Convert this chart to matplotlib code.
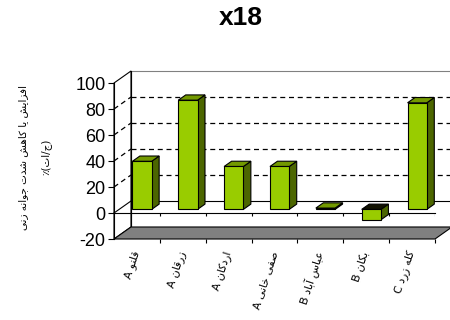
import re
import matplotlib
matplotlib.use("Agg")
import matplotlib.pyplot as plt
from matplotlib.patches import Polygon

# ---- data -------------------------------------------------------------
title = "x18"
categories = ["قلنو A", "زرقان A", "اردکان A", "صفی خانی A",
              "عباس آباد B", "بکان B", "کله زرد C"]
values = [37, 84, 33, 33, 1, -8, 82]
y_ticks = [-20, 0, 20, 40, 60, 80, 100]
y_label_lines = ["افزایش یا کاهش شدت جوانه زنی", "(ج/ات)٪"]

# ---- minimal Persian shaping (contextual forms + visual order) ---------
FORMS = {
    'ا': ('\uFE8D', '\uFE8E', None, None),
    'آ': ('\uFE81', '\uFE82', None, None),
    'ب': ('\uFE8F', '\uFE90', '\uFE91', '\uFE92'),
    'ت': ('\uFE95', '\uFE96', '\uFE97', '\uFE98'),
    'ج': ('\uFE9D', '\uFE9E', '\uFE9F', '\uFEA0'),
    'خ': ('\uFEA5', '\uFEA6', '\uFEA7', '\uFEA8'),
    'د': ('\uFEA9', '\uFEAA', None, None),
    'ر': ('\uFEAD', '\uFEAE', None, None),
    'ز': ('\uFEAF', '\uFEB0', None, None),
    'س': ('\uFEB1', '\uFEB2', '\uFEB3', '\uFEB4'),
    'ش': ('\uFEB5', '\uFEB6', '\uFEB7', '\uFEB8'),
    'ص': ('\uFEB9', '\uFEBA', '\uFEBB', '\uFEBC'),
    'ع': ('\uFEC9', '\uFECA', '\uFECB', '\uFECC'),
    'ف': ('\uFED1', '\uFED2', '\uFED3', '\uFED4'),
    'ق': ('\uFED5', '\uFED6', '\uFED7', '\uFED8'),
    'ک': ('\uFB8E', '\uFB8F', '\uFB90', '\uFB91'),
    'ل': ('\uFEDD', '\uFEDE', '\uFEDF', '\uFEE0'),
    'م': ('\uFEE1', '\uFEE2', '\uFEE3', '\uFEE4'),
    'ن': ('\uFEE5', '\uFEE6', '\uFEE7', '\uFEE8'),
    'ه': ('\uFEE9', '\uFEEA', '\uFEEB', '\uFEEC'),
    'و': ('\uFEED', '\uFEEE', None, None),
    'ی': ('\uFBFC', '\uFBFD', '\uFBFE', '\uFBFF'),
}
MIRROR = {'(': ')', ')': '('}


def _dual(c):
    return c in FORMS and FORMS[c][2] is not None


def rtl(text):
    out = []
    for i, c in enumerate(text):
        if c not in FORMS:
            out.append(c)
            continue
        prev = text[i - 1] if i > 0 else ''
        nxt = text[i + 1] if i + 1 < len(text) else ''
        jp = _dual(prev)
        jn = _dual(c) and nxt in FORMS
        iso, fin, ini, med = FORMS[c]
        if jp and jn:
            out.append(med)
        elif jp:
            out.append(fin)
        elif jn:
            out.append(ini)
        else:
            out.append(iso)
    shaped = ''.join(out)
    tokens = re.findall(r'[A-Za-z0-9]+|.', shaped)
    return ''.join(MIRROR.get(t, t) for t in reversed(tokens))


# ---- figure -----------------------------------------------------------
W, H = 450, 320
fig = plt.figure(figsize=(W / 100, H / 100), dpi=100)
fig.patch.set_facecolor("white")

x0_px, x1_px = 114, 435
y_lo_px, y_hi_px = 239, 83
ax = fig.add_axes([x0_px / W, 1 - y_lo_px / H,
                   (x1_px - x0_px) / W, (y_lo_px - y_hi_px) / H])
n = len(categories)
ymin, ymax = y_ticks[0], y_ticks[-1]
ax.set_xlim(0, n)
ax.set_ylim(ymin, ymax)
ax.set_facecolor("none")

# depth vector of the 3-D box, in data units
px_per_cat = (x1_px - x0_px) / n
px_per_val = (y_lo_px - y_hi_px) / (ymax - ymin)
DX = 17 / px_per_cat
DY = 12 / px_per_val

edge = "black"
lw = 0.8

# side wall (left) and back wall
ax.add_patch(Polygon([(0, ymin), (0, ymax), (DX, ymax + DY), (DX, ymin + DY)],
                     closed=True, facecolor="white", edgecolor=edge, lw=lw,
                     clip_on=False, zorder=1))
ax.add_patch(Polygon([(DX, ymin + DY), (DX, ymax + DY), (n + DX, ymax + DY),
                      (n + DX, ymin + DY)],
                     closed=True, facecolor="white", edgecolor="#808080", lw=lw,
                     clip_on=False, zorder=1))
ax.plot([DX, DX], [ymin + DY, ymax + DY], color=edge, lw=lw,
        clip_on=False, zorder=2)

# gridlines on back wall and side wall
for v in y_ticks[2:-1]:
    ax.plot([DX, n + DX], [v + DY, v + DY], color="black", lw=0.9,
            ls=(0, (4, 3)), clip_on=False, zorder=2)
    ax.plot([0, DX], [v, v + DY], color="black", lw=0.9,
            ls=(0, (4, 3)), clip_on=False, zorder=2)

# zero plane outline
ax.plot([DX, n + DX], [DY, DY], color=edge, lw=lw, clip_on=False, zorder=2)
ax.plot([0, DX], [0, DY], color=edge, lw=lw, clip_on=False, zorder=2)

# floor
ax.add_patch(Polygon([(0, ymin), (n, ymin), (n + DX, ymin + DY), (DX, ymin + DY)],
                     closed=True, facecolor="#808080", edgecolor=edge, lw=lw,
                     clip_on=False, zorder=3))

# front zero line with category dividers
ax.plot([0, n], [0, 0], color=edge, lw=lw, clip_on=False, zorder=4)
ax.vlines(range(1, n + 1), -3 / px_per_val, 0, color=edge, lw=lw, zorder=4)

# 3-D columns
f0, f1 = 0.30, 0.74
bw = 0.42
d = f1 - f0
front_col, side_col, top_col = "#99CC00", "#4C6600", "#739900"
xs = [i + 0.5 + f0 * DX for i in range(n)]
base = f0 * DY
ax.bar(xs, values, width=bw, bottom=base, color=front_col,
       edgecolor=edge, lw=lw, zorder=6)
for x, v in zip(xs, values):
    xl, xr = x - bw / 2, x + bw / 2
    lo, hi = base + min(v, 0), base + max(v, 0)
    ax.add_patch(Polygon([(xr, lo), (xr, hi), (xr + d * DX, hi + d * DY),
                          (xr + d * DX, lo + d * DY)],
                         closed=True, facecolor=side_col, edgecolor=edge,
                         lw=lw, zorder=5))
    ax.add_patch(Polygon([(xl, hi), (xr, hi), (xr + d * DX, hi + d * DY),
                          (xl + d * DX, hi + d * DY)],
                         closed=True, facecolor=top_col if v > 0 else "#111100",
                         edgecolor=edge, lw=lw, zorder=5))

# axes styling
for s in ["top", "right", "bottom"]:
    ax.spines[s].set_visible(False)
ax.spines["left"].set_linewidth(lw)
ax.spines["left"].set_zorder(7)
ax.set_yticks(y_ticks)
ax.set_yticklabels([str(t) for t in y_ticks], fontsize=13,
                   family="Liberation Sans")
ax.tick_params(axis="y", direction="out", length=4, width=lw, pad=2)

ax.set_xticks([i + 0.5 for i in range(n)])
ax.set_xticklabels([rtl(c) for c in categories], rotation=72, ha="right",
                   va="center", rotation_mode="anchor", fontsize=7.8,
                   family="DejaVu Sans")
ax.tick_params(axis="x", which="major", length=0, pad=9)
ax.set_xticks(range(1, n + 1), minor=True)
ax.tick_params(axis="x", which="minor", direction="out", length=3, width=lw)

# title and value-axis caption
fig.text(241 / W, 1 - 18 / H, title, ha="center", va="center",
         fontsize=19, fontweight="bold", family="Liberation Sans")
fig.text(23 / W, 1 - 157 / H, rtl(y_label_lines[0]), rotation=90,
         ha="center", va="center", fontsize=7.5, family="DejaVu Sans")
fig.text(46 / W, 1 - 157 / H, rtl(y_label_lines[1]), rotation=90,
         ha="center", va="center", fontsize=7.5, family="DejaVu Sans")

fig.savefig("out.png", dpi=100, facecolor="white")
